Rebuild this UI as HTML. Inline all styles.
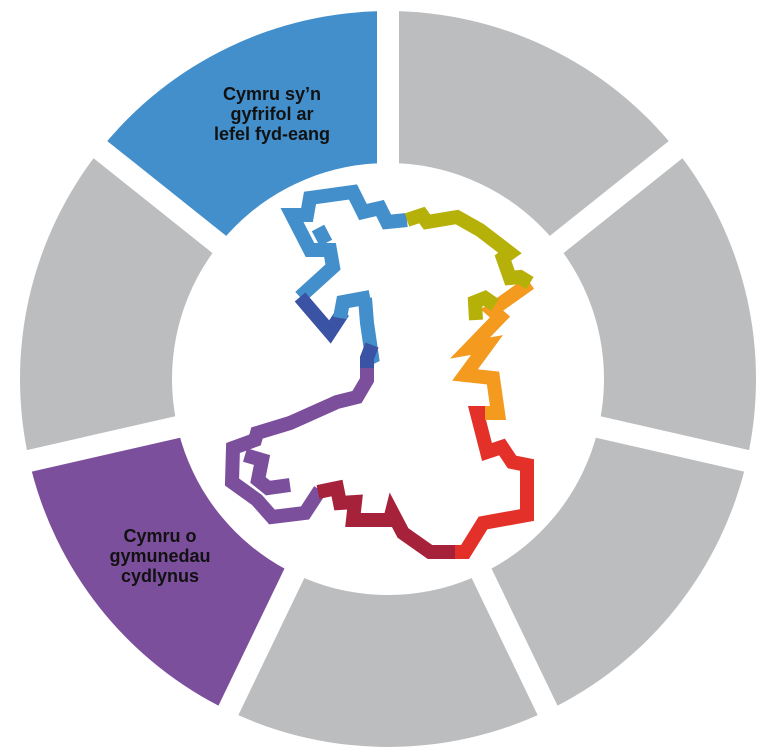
<!DOCTYPE html>
<html><head><meta charset="utf-8"><style>
html,body{margin:0;padding:0;background:#fff;}
svg{display:block;}
text{font-family:"Liberation Sans Narrow","Liberation Sans",sans-serif;font-weight:bold;font-size:18px;fill:#111;}
</style></head><body>
<svg id="s" width="772" height="756" viewBox="0 0 772 756" xmlns="http://www.w3.org/2000/svg">
<g id="ring"></g>
<circle cx="388" cy="379" r="216" fill="#fff"/>
<g fill="none" stroke-width="14" stroke-linejoin="miter" stroke-linecap="butt">
<polyline stroke="#428fcc" points="407,220 387,222 380,208 363,212 353,192 310,198 307,215 292,215 310,250 330,250 333,267 300,297"/>
<polyline stroke="#428fcc" points="318,228 326,243"/>
<polyline stroke="#3b53a4" points="300,297 330,332 343,312"/>
<polyline stroke="#428fcc" points="340,318 343,302 370,297 365,298 367,323 372,357 370,358"/>
<polyline stroke="#3b53a4" points="372,345 367,358 367,372"/>
<polyline stroke="#7c4f9c" points="367,368 367,380 357,397 337,402 290,423 257,433 255,440 233,448 232,482 257,500 272,517 305,513 320,490"/>
<polyline stroke="#7c4f9c" points="245,455 262,460 258,480 268,488 290,485"/>
<polyline stroke="#a6223b" points="318,492 337,488 340,503 355,502 353,520 390,520 392,512 403,533 430,552 460,552"/>
<polyline stroke="#e3312a" points="455,552 465,552 483,523 527,515 527,465 512,462 502,447 487,452 477,413 498,413"/>
<polyline stroke="#f39a1f" points="485,413 498,413 493,378 465,375 487,345 470,348 500,317 492,310 530,283"/>
<polyline stroke="#b6b109" points="530,283 520,277 510,278 503,258 510,253 480,230 457,217 427,222 422,215 407,220"/>
<polyline stroke="#b6b109" points="495,305 485,298 475,302 476,320"/>
</g>
<text text-anchor="middle"><tspan x="272" y="100">Cymru sy’n</tspan><tspan x="272" y="120">gyfrifol ar</tspan><tspan x="272" y="140">lefel fyd-eang</tspan></text>
<text text-anchor="middle"><tspan x="160" y="542">Cymru o</tspan><tspan x="160" y="562">gymunedau</tspan><tspan x="160" y="582">cydlynus</tspan></text>
</svg>
<script>
var cx=388,cy=379,R=368,r=200,g=document.getElementById('ring');
function p(a,rad){a=a*Math.PI/180;return [cx+rad*Math.sin(a),cy-rad*Math.cos(a)];}
var cols=['#bcbdbf','#bcbdbf','#bcbdbf','#bcbdbf','#7c4f9c','#bcbdbf','#428fcc'];
var ns='http://www.w3.org/2000/svg',st=360/7;
for(var i=0;i<7;i++){var a0=i*st,a1=(i+1)*st;var A=p(a0,R),B=p(a1,R),C=p(a1,r),D=p(a0,r);
var e=document.createElementNS(ns,'path');
e.setAttribute('d','M'+A+' A'+R+' '+R+' 0 0 1 '+B+' L'+C+' A'+r+' '+r+' 0 0 0 '+D+'Z');
e.setAttribute('fill',cols[i]);g.appendChild(e);}
for(var i=0;i<7;i++){var A=p(i*st,R+10);var l=document.createElementNS(ns,'line');
l.setAttribute('x1',cx);l.setAttribute('y1',cy);l.setAttribute('x2',A[0]);l.setAttribute('y2',A[1]);
l.setAttribute('stroke','#fff');l.setAttribute('stroke-width','22');g.appendChild(l);}
</script>
</body></html>
